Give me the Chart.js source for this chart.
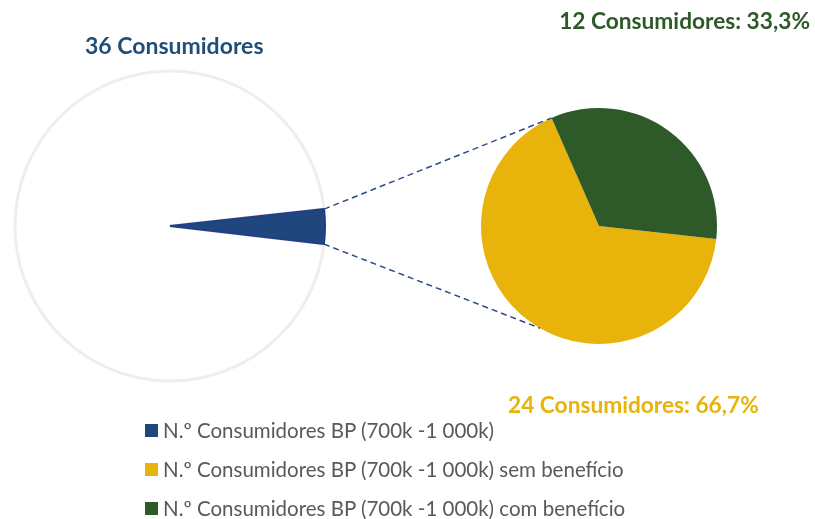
<!DOCTYPE html>
<html>
<head>
<meta charset="utf-8">
<script src="https://cdn.jsdelivr.net/npm/chart.js@4"></script>
<style>
  body { margin: 0; background: #fff; font-family: Lato, "Open Sans", sans-serif; }
  #wrap { position: relative; width: 815px; height: 519px; overflow: hidden; }
  canvas { position: absolute; }
  .lbl { position: absolute; font-weight: bold; white-space: nowrap; }
  #legenda { position: absolute; left: 145px; top: 420px; color: #595959; font-size: 20.5px; line-height: 20px; }
  #legenda div { height: 39px; display: flex; align-items: flex-start; white-space: nowrap; }
  #legenda span.box { width: 13px; height: 13px; margin: 4px 5px 0 0; display: inline-block; flex: none; }
</style>
</head>
<body>
<div id="wrap">
  <canvas id="pieTotal" style="left:0;top:0"></canvas>
  <canvas id="pieDetalhe" style="left:469px;top:96px"></canvas>
  <canvas id="linhas" style="left:0;top:0"></canvas>
  <div class="lbl" id="lblTotal" style="left:85px;top:31px;font-size:23px;color:#1F4E79"></div>
  <div class="lbl" id="lblCom" style="right:5px;top:6.5px;font-size:22.7px;color:#2E5A2A"></div>
  <div class="lbl" id="lblSem" style="left:508px;top:390.5px;font-size:22.7px;color:#E8B30A"></div>
  <div id="legenda"></div>
</div>
<script>
// Dados
const legendaLabels = [
  "N.º Consumidores BP (700k -1 000k)",
  "N.º Consumidores BP (700k -1 000k) sem benefício",
  "N.º Consumidores BP (700k -1 000k) com benefício",
];
const totalValores = [964, 36]; // restante, consumidores BP (700k - 1 000k)
const detalheLabels = ["sem benefício", "com benefício"];
const detalheValores = [24, 12];
const cores = ["#1F477D", "#E8B30A", "#2E5A2A"];

// Gráfico da esquerda (pie grande)
const cTotal = document.getElementById("pieTotal");
cTotal.width = 340; cTotal.height = 452;
const chartTotal = new Chart(cTotal, {
  type: "pie",
  data: {
    labels: ["Restantes", legendaLabels[0]],
    datasets: [{
      data: totalValores,
      backgroundColor: ["#FFFFFF", cores[0]],
      borderColor: ["#EEEEEE", "#203F86"],
      borderWidth: [3, 2],
      radius: 155,
    }],
  },
  options: {
    responsive: false,
    animation: false,
    rotation: 96.7,
    plugins: { legend: { display: false }, tooltip: { enabled: false } },
  },
});

// Gráfico da direita (detalhe)
const cDet = document.getElementById("pieDetalhe");
cDet.width = 260; cDet.height = 260;
const chartDet = new Chart(cDet, {
  type: "pie",
  data: {
    labels: detalheLabels,
    datasets: [{
      data: detalheValores,
      backgroundColor: [cores[1], cores[2]],
      borderWidth: 0,
      radius: 118,
    }],
  },
  options: {
    responsive: false,
    animation: false,
    rotation: 96.3,
    plugins: { legend: { display: false }, tooltip: { enabled: false } },
  },
});

// Linhas tracejadas entre os dois gráficos
const cLin = document.getElementById("linhas");
cLin.width = 815; cLin.height = 519;
const ctx = cLin.getContext("2d");
const arcAzul = chartTotal.getDatasetMeta(0).data[1];
const arcVerde = chartDet.getDatasetMeta(0).data[1];
const ox = 469, oy = 96; // posição do canvas da direita
const pA1 = [arcAzul.x + arcAzul.outerRadius * Math.cos(arcAzul.startAngle), arcAzul.y + arcAzul.outerRadius * Math.sin(arcAzul.startAngle)];
const pA2 = [arcAzul.x + arcAzul.outerRadius * Math.cos(arcAzul.endAngle), arcAzul.y + arcAzul.outerRadius * Math.sin(arcAzul.endAngle)];
const pB1 = [ox + arcVerde.x + arcVerde.outerRadius * Math.cos(arcVerde.startAngle), oy + arcVerde.y + arcVerde.outerRadius * Math.sin(arcVerde.startAngle)];
const angBaixo = (120 * Math.PI) / 180;
const pB2 = [ox + arcVerde.x + arcVerde.outerRadius * Math.cos(angBaixo), oy + arcVerde.y + arcVerde.outerRadius * Math.sin(angBaixo)];
ctx.strokeStyle = "#2F4A8C";
ctx.lineWidth = 1.5;
ctx.setLineDash([6, 4]);
ctx.beginPath();
ctx.moveTo(pA1[0], pA1[1]); ctx.lineTo(pB1[0], pB1[1]);
ctx.moveTo(pA2[0], pA2[1]); ctx.lineTo(pB2[0], pB2[1]);
ctx.stroke();

// Rótulos
const totalDet = detalheValores.reduce((a, b) => a + b, 0);
const pct = (v) => ((v / totalDet) * 100).toFixed(1).replace(".", ",") + "%";
document.getElementById("lblTotal").textContent = totalValores[1] + " Consumidores";
document.getElementById("lblCom").textContent = detalheValores[1] + " Consumidores: " + pct(detalheValores[1]);
document.getElementById("lblSem").textContent = detalheValores[0] + " Consumidores: " + pct(detalheValores[0]);

// Legenda
const leg = document.getElementById("legenda");
legendaLabels.forEach((t, i) => {
  const d = document.createElement("div");
  d.innerHTML = '<span class="box" style="background:' + cores[i] + '"></span>';
  d.appendChild(document.createTextNode(t));
  leg.appendChild(d);
});
</script>
</body>
</html>
